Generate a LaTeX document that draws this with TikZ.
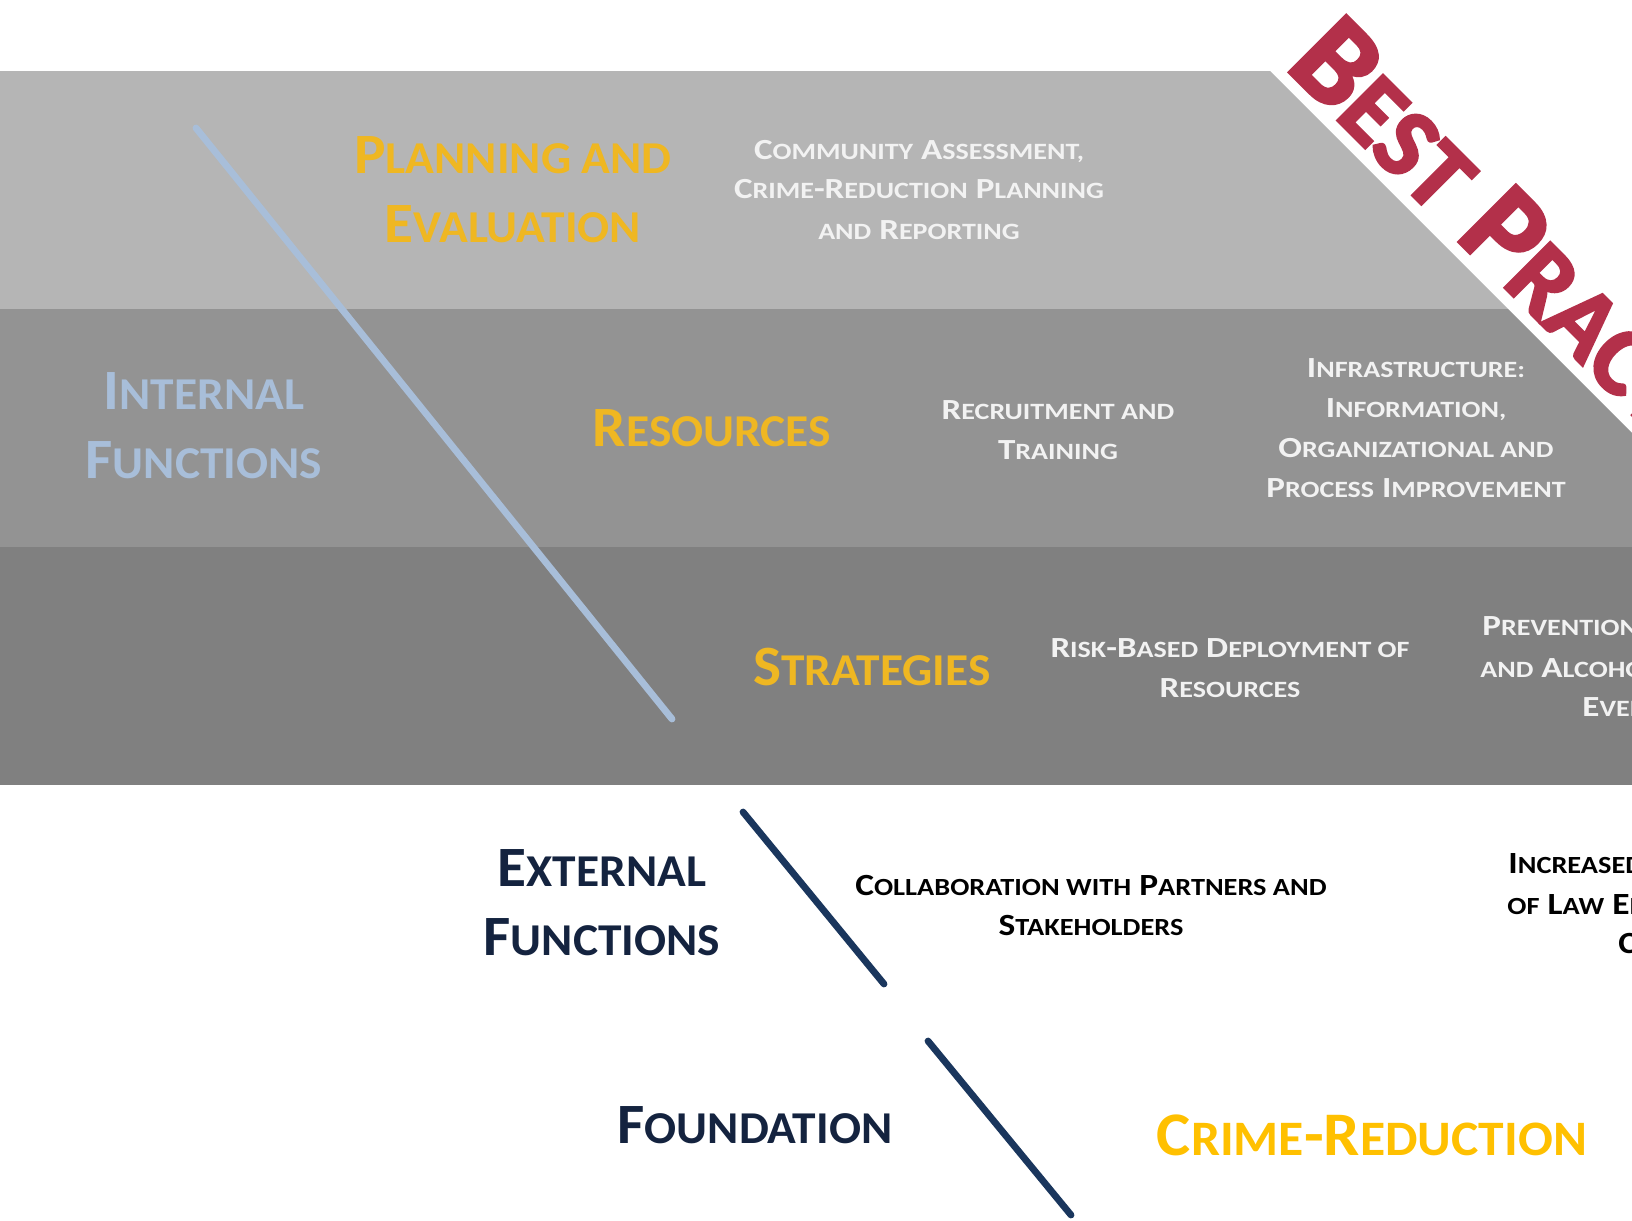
\documentclass[tikz,border=0pt]{standalone}
\usepackage{fontspec}
\setmainfont{Carlito}
\newfontfamily\labelfont{Carlito}[FakeStretch=1.04]
\newfontfamily\widefont{Carlito}[FakeStretch=1.2]
\newfontfamily\darkfont{Carlito}[FakeStretch=1.15]
\newfontfamily\heavyfont{Carlito}[BoldFeatures={FakeBold=2.6}]
\usepackage{xcolor}
\usetikzlibrary{positioning}

\definecolor{bandlight}{HTML}{B5B5B5}
\definecolor{bandmid}{HTML}{939393}
\definecolor{banddark}{HTML}{808080}
\definecolor{gold}{HTML}{EFB722}
\definecolor{brightgold}{HTML}{FFC000}
\definecolor{paleblue}{HTML}{A8BED9}
\definecolor{navy}{HTML}{1A365D}
\definecolor{navytext}{HTML}{14233F}
\definecolor{offwhite}{HTML}{F2F2F2}
\definecolor{bestred}{HTML}{B3304A}

% fake small caps: lower case letters as smaller capitals
\makeatletter
\newcommand\lc[1]{{\fontsize{\fpeval{0.8*\f@size}}{\f@baselineskip}\selectfont\MakeUppercase{#1}}}
\makeatother

\begin{document}
\begin{tikzpicture}[x=0.5pt, y=-0.5pt,
    head/.style={font=\labelfont\fontsize{28.5}{34.5}\selectfont\bfseries, align=center, anchor=base, inner sep=0pt},
    note/.style={font=\widefont\fontsize{14.6}{20}\selectfont\bfseries, align=center, anchor=base, inner sep=0pt},
    darknote/.style={note, text=black, font=\darkfont\fontsize{15.4}{20}\selectfont\bfseries},
    divider/.style={line width=3.4pt, line cap=round}]
    \useasboundingbox (0,0) rectangle (1632,1220);

    % the three grey bands, cut off along the diagonal
    \begin{scope}
        \clip (0,71) -- (1270,71) -- (2000,801) -- (0,801) -- cycle;
        \fill[bandlight] (0,71) rectangle (1632,309);
        \fill[bandmid] (0,309) rectangle (1632,547);
        \fill[banddark] (0,547) rectangle (1632,785);
    \end{scope}

    \node[rotate=-45, anchor=base west, inner sep=0pt, text=bestred,
        font=\heavyfont\fontsize{62}{62}\selectfont\bfseries] (best) at (1284,67) {B\lc{est} P\lc{ractices}};

    % internal functions (nodes sit on the baseline of their last line)
    \node[head, text=paleblue] (internal) at (204,478) {I\lc{nternal}\\F\lc{unctions}};
    \node[head, text=gold] (planning) at (513,242) {P\lc{lanning and}\\E\lc{valuation}};
    \node[note, text=offwhite] (assess) at (919,239) {C\lc{ommunity} A\lc{ssessment,}\\C\lc{rime}-R\lc{eduction} P\lc{lanning}\\\lc{and} R\lc{eporting}};

    \node[head, text=gold] (resources) at (712,446) {R\lc{esources}};
    \node[note, text=offwhite] (recruit) at (1058,459) {R\lc{ecruitment and}\\T\lc{raining}};
    \node[note, text=offwhite] (infra) at (1416,497) {I\lc{nfrastructure:}\\I\lc{nformation,}\\O\lc{rganizational and}\\P\lc{rocess} I\lc{mprovement}};

    \node[head, text=gold] (strategies) at (872,685) {S\lc{trategies}};
    \node[note, text=offwhite] (risk) at (1230,697) {R\lc{isk}-B\lc{ased} D\lc{eployment of}\\R\lc{esources}};
    \node[note, text=offwhite, anchor=base west] (prev1) at (1482,635) {P\lc{revention}};
    \node[note, text=offwhite, anchor=base west] (prev2) at (1480,677) {\lc{and} A\lc{lcohol}};
    \node[note, text=offwhite, anchor=base west] (prev3) at (1582,716) {E\lc{vents}};

    % external functions
    \node[head, text=navytext] (external) at (602,955) {E\lc{xternal}\\F\lc{unctions}};
    \node[darknote] (collab) at (1091,935) {C\lc{ollaboration with} P\lc{artners and}\\S\lc{takeholders}};
    \node[darknote, anchor=base west] (incr1) at (1508,873) {I\lc{ncreased}};
    \node[darknote, anchor=base west] (incr2) at (1507,914) {\lc{of} L\lc{aw} E\lc{nforcement}};
    \node[darknote, anchor=base west] (incr3) at (1618,953) {C\lc{ommunity}};

    % foundation
    \node[head, text=navytext] (foundation) at (755,1143) {F\lc{oundation}};
    \node[head, text=brightgold, font=\labelfont\fontsize{31}{36}\selectfont\bfseries] (crime) at (1372,1155) {C\lc{rime}-R\lc{eduction}};

    % slanted dividers
    \coordinate (inTop) at (196,128);
    \coordinate (inBot) at (672,719);
    \coordinate (exTop) at (743,812);
    \coordinate (exBot) at (884,984);
    \coordinate (fdTop) at (928,1041);
    \coordinate (fdBot) at (1071,1215);
    \draw[divider, paleblue] (inTop) -- (inBot);
    \draw[divider, navy] (exTop) -- (exBot);
    \draw[divider, navy] (fdTop) -- (fdBot);
\end{tikzpicture}
\end{document}
